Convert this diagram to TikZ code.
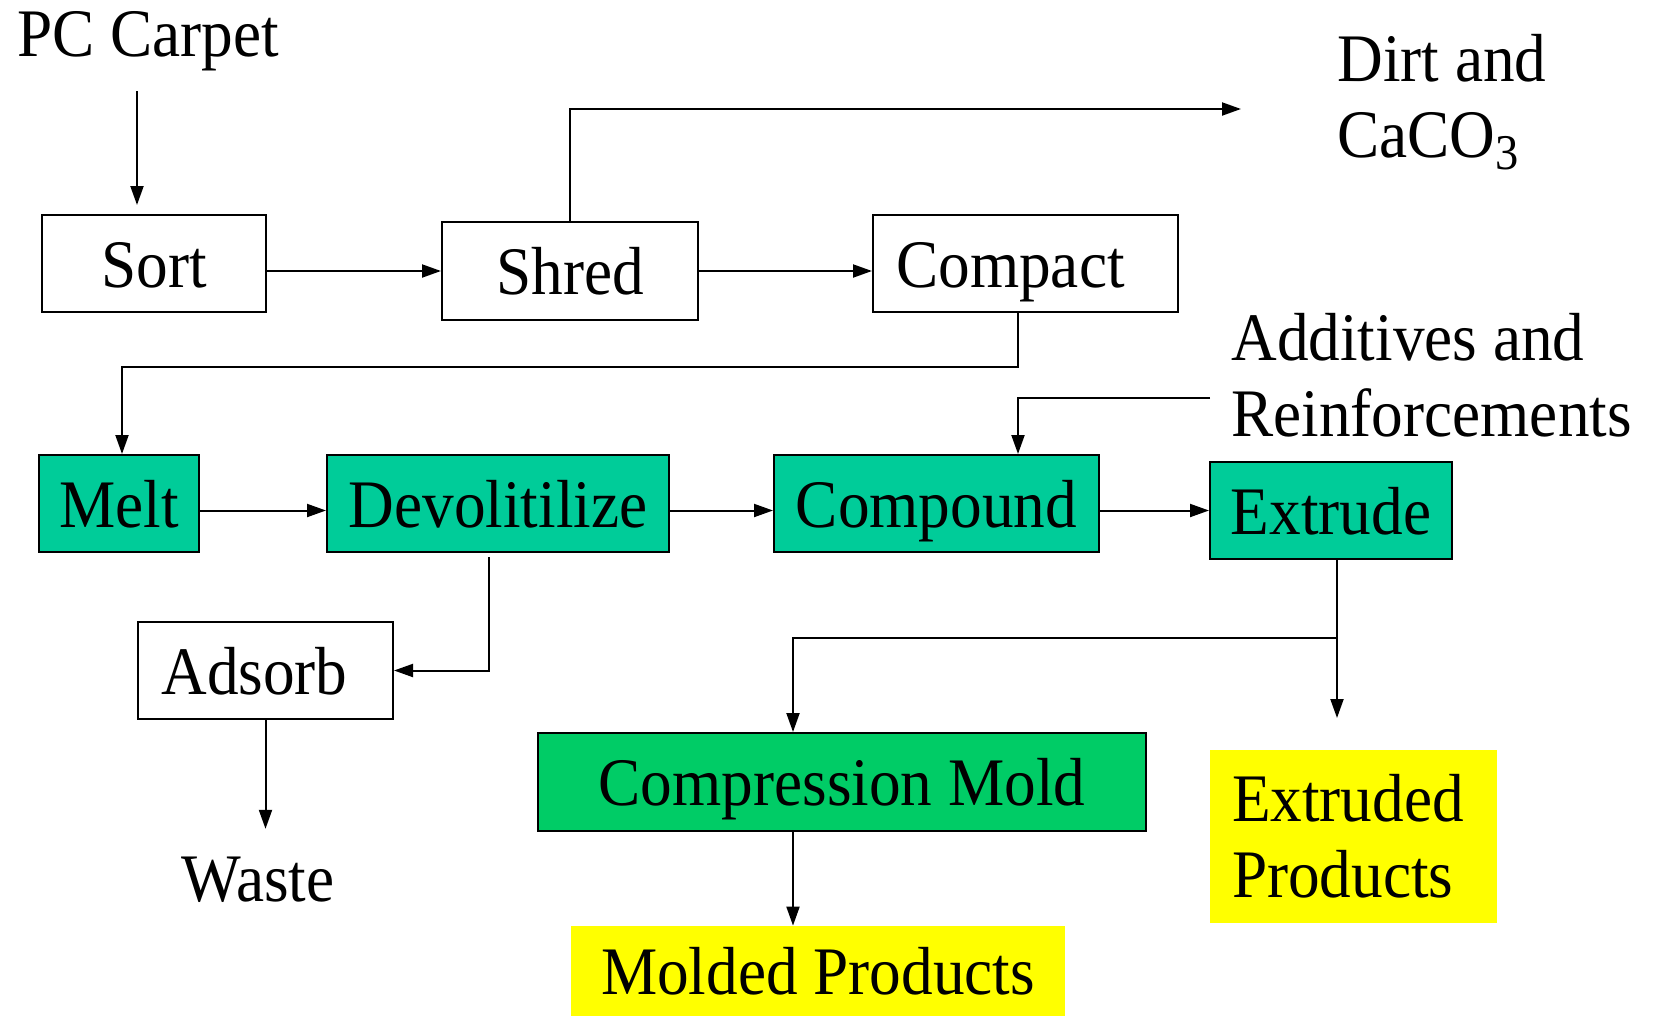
\documentclass[tikz,border=0pt]{standalone}
\usepackage{fontspec}
\setmainfont{Liberation Serif}[FakeStretch=0.93]
\usepackage{xcolor}
\usepackage{tikz}
\usetikzlibrary{arrows.meta,calc}

\definecolor{stepgreen}{RGB}{0,204,153}
\definecolor{moldgreen}{RGB}{0,204,102}
\definecolor{prodyellow}{RGB}{255,255,0}

\begin{document}
\begin{tikzpicture}[x=0.5pt,y=0.5pt,font=\fontsize{34}{38}\selectfont,
 proc/.style={draw,line width=1pt,inner sep=0pt,minimum height=48.5pt,text height=26pt,text depth=2.5pt},
 hot/.style={proc,fill=stepgreen},
 prod/.style={fill=prodyellow,inner sep=0pt},
 lbl/.style={align=left,inner sep=0pt},
 arr/.style={-{Triangle[length=9.5pt,width=6.5pt]},line width=1pt}]
\useasboundingbox (0,0) rectangle (1654,-1017);
% carpet preparation
\node[lbl] (pc) at (148,-41) {PC Carpet};
\node[proc,minimum width=112pt] (sort) at (154,-263.5) {Sort};
\node[proc,minimum width=128pt,minimum height=49pt] (shred) at (570,-271) {Shred};
\node[proc,minimum width=152.5pt] (compact) at (1025.5,-263.5) {Compact\hspace*{15pt}};
\node[lbl,anchor=north west] (dirt) at (1337,-34)
  {Dirt and\\CaCO\raisebox{-6pt}{\fontsize{25}{25}\selectfont 3}};
% melt line
\node[hot,minimum width=80pt] (melt) at (119,-503.5) {Melt};
\node[hot,minimum width=171pt] (devol) at (498,-503.5) {Devolitilize};
\node[hot,minimum width=162.5pt] (compound) at (936.5,-503.5) {Compound};
\node[hot,minimum width=121pt] (extrude) at (1331,-510.5) {Extrude};
\node[lbl,anchor=north west] (add) at (1231,-313) {Additives and\\Reinforcements};
\node[proc,minimum width=127.5pt] (adsorb) at (265.5,-670.5) {Adsorb\hspace*{11pt}};
\node[lbl] (waste) at (258,-880) {Waste};
% products
\node[proc,fill=moldgreen,minimum width=304pt,minimum height=49pt] (cmold) at (842,-782) {Compression Mold};
\node[prod,minimum width=247pt,minimum height=45pt,text height=26pt,text depth=2.5pt] (molded) at (818,-971) {Molded Products};
\node[prod,inner xsep=11pt,text width=121.5pt,minimum height=86.5pt,align=left] (extp) at (1353.5,-836.5) {Extruded\\Products};
\coordinate (dirtin) at (1241,-109);
\coordinate (addout) at (1210,-398);
\draw[arr] ($(pc.south)+(-11,-20)$) -- ($(sort.north)+(-17,9)$);
\draw[arr] (sort.east |- shred.west) -- (shred.west);
\draw[arr] (shred.east) -- (shred.east -| compact.west);
\draw[arr] (shred.north) |- (dirtin);
\draw[arr] ($(compact.south)+(-7.5,0)$) -- ++(0,-54) -| ($(melt.north)+(3,0)$);
\draw[arr] (addout) -| ($(compound.north)+(81.5,0)$);
\draw[arr] (melt.east |- extrude.west) -- (devol.west |- extrude.west);
\draw[arr] (devol.east |- extrude.west) -- (compound.west |- extrude.west);
\draw[arr] (compound.east |- extrude.west) -- (extrude.west);
\draw[arr] ($(devol.south)+(-9,-4)$) |- (adsorb.east);
\draw[arr] (adsorb.south) -- ($(adsorb.south |- waste.north)+(0,28)$);
\draw[arr] ($(extrude.south)+(6,0)$) -- ++(0,-158);
\draw[arr] ($(extrude.south)+(6,-78)$) -| ($(cmold.north)+(-49,0)$);
\draw[arr] ($(cmold.south)+(-49,0)$) -- ($(molded.north)+(-25,0)$);
\end{tikzpicture}
\end{document}
